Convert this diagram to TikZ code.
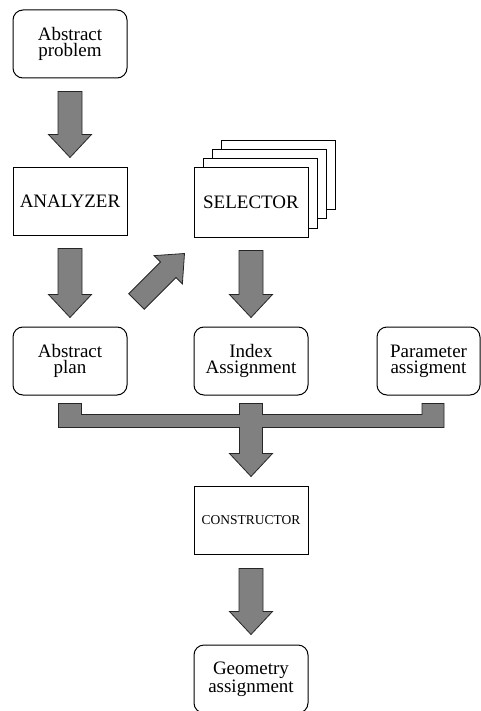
\documentclass[tikz,border=0pt]{standalone}
\usepackage{fontspec}
\setmainfont{Liberation Serif}
\usetikzlibrary{calc}
\definecolor{arrowgray}{RGB}{128,128,128}
\newcommand\barrow[4]{%
  \coordinate (bt) at #1; \coordinate (be) at #2;
  \coordinate (bh) at ($(be)!23pt!(bt)$);
  \draw[blockarrow] ($(bt)!#3!90:(be)$) -- ($(bh)!#3!-90:(bt)$) -- ($(bh)!#4!-90:(bt)$)
    -- (be) -- ($(bh)!#4!90:(bt)$) -- ($(bh)!#3!90:(bt)$) -- ($(bt)!#3!-90:(be)$) -- cycle;}
\begin{document}
\begin{tikzpicture}[x=1pt,y=-1pt,
  box/.style={draw=black,line width=1pt,fill=white,minimum width=114pt,minimum height=68pt,
    inner sep=0pt,align=center,font=\fontsize{19}{16}\selectfont},
  rbox/.style={box,rounded corners=10pt},
  blockarrow/.style={draw=black!85,line width=0.8pt,fill=arrowgray,line join=miter}]
\useasboundingbox (0,0) rectangle (481,711);
% nodes
\node[rbox] (ap) at (70,44) {Abstract\\problem};
\node[box,minimum height=67pt] (an) at (70,201.5) {ANALYZER};
\foreach \k in {3,2,1}{
  \node[box,minimum height=69pt] (sel\k) at ({251+9*\k},{202.5-9*\k}) {};
}
\node[box,minimum height=69pt] (sel) at (251,202.5) {SELECTOR};
\node[rbox] (pl) at (70,361) {Abstract\\plan};
\node[rbox] (ia) at (251,361) {Index\\Assignment};
\node[rbox,minimum width=103pt] (pa) at (428.5,361) {Parameter\\assigment};
\node[box,font=\fontsize{13.5}{15}\selectfont] (co) at (251,520) {CONSTRUCTOR};
\node[rbox] (ga) at (251,679) {Geometry\\assignment};
% arrows
\barrow{($(ap.south)+(0,13)$)}{($(an.north)+(0,-10)$)}{12pt}{21.5pt}
\barrow{($(an.south)+(0,13)$)}{($(pl.north)+(0,-9)$)}{12pt}{21.5pt}
\barrow{($(sel.south)+(0,13)$)}{($(ia.north)+(0,-9)$)}{12pt}{21.5pt}
\barrow{($(co.south)+(0,14)$)}{($(ga.north)+(0,-10)$)}{12pt}{21.5pt}
\barrow{($(pl.north east)+(9,-25)$)}{($(sel.south west)+(-9,16)$)}{11pt}{20pt}
% bus
\coordinate (s1) at ($(pl.south)+(0,8)$);
\coordinate (s2) at ($(ia.south)+(0,8)$);
\coordinate (s3) at ($(pa.south)+(4.5,8)$);
\draw[blockarrow] ($(s1)+(-11.5,0)$) -- ($(s1)+(11.5,0)$) -- ($(s1)+(11.5,11)$)
  -- ($(s2)+(-11.5,11)$) -- ($(s2)+(-11.5,0)$) -- ($(s2)+(11.5,0)$) -- ($(s2)+(11.5,11)$)
  -- ($(s3)+(-11,11)$) -- ($(s3)+(-11,0)$) -- ($(s3)+(11,0)$) -- ($(s3)+(11,24)$)
  -- ($(s2)+(11.5,24)$) -- ($(co.north)+(11.5,-32)$) -- ($(co.north)+(21.5,-32)$)
  -- ($(co.north)+(0,-9)$) -- ($(co.north)+(-21.5,-32)$) -- ($(co.north)+(-11.5,-32)$)
  -- ($(s2)+(-11.5,24)$) -- ($(s1)+(-11.5,24)$) -- cycle;
\end{tikzpicture}
\end{document}
